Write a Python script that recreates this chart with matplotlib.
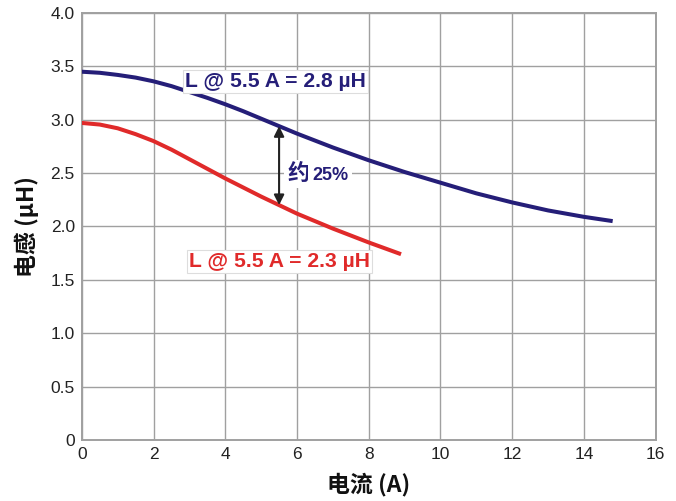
import matplotlib
matplotlib.use("Agg")
import matplotlib.pyplot as plt

# Inductance vs. current for two inductors
current_a = [0, 0.5, 1, 1.5, 2, 2.5, 3, 3.5, 4, 4.5, 5, 5.5, 6, 6.5, 7, 7.5, 8,
             9, 10, 11, 12, 13, 14, 14.8]
induct_a = [3.45, 3.44, 3.42, 3.395, 3.36, 3.315, 3.26, 3.205, 3.145, 3.08, 3.01,
            2.94, 2.87, 2.805, 2.74, 2.68, 2.62, 2.51, 2.41, 2.31, 2.225, 2.15,
            2.09, 2.05]

current_b = [0, 0.5, 1, 1.5, 2, 2.5, 3, 3.5, 4, 4.5, 5, 5.5, 6, 6.5, 7, 7.5, 8,
             8.9]
induct_b = [2.97, 2.955, 2.92, 2.865, 2.80, 2.72, 2.63, 2.54, 2.45, 2.365, 2.28,
            2.20, 2.12, 2.05, 1.98, 1.915, 1.85, 1.74]

x_ticks = [0, 2, 4, 6, 8, 10, 12, 14, 16]
y_ticks = [0, 0.5, 1.0, 1.5, 2.0, 2.5, 3.0, 3.5, 4.0]
y_tick_labels = ["0", "0.5", "1.0", "1.5", "2.0", "2.5", "3.0", "3.5", "4.0"]

label_a = "L @ 5.5 A = 2.8 µH"
label_b = "L @ 5.5 A = 2.3 µH"
arrow_x = 5.5
arrow_top, arrow_bottom = 2.94, 2.20

navy = "#251e78"
red = "#e02a2a"
grid_gray = "#a0a0a0"

tick_font = ["Liberation Sans Narrow", "Liberation Sans", "DejaVu Sans"]
cjk_font = ["Noto Sans CJK SC", "DejaVu Sans"]
latin_font = ["Liberation Sans", "DejaVu Sans"]

fig = plt.figure(figsize=(6.76, 5.01), dpi=100)
ax = fig.add_axes([0.121, 0.122, 0.849, 0.852])

ax.plot(current_a, induct_a, color=navy, lw=2.9, solid_capstyle="butt",
        solid_joinstyle="round", zorder=3)
ax.plot(current_b, induct_b, color=red, lw=2.9, solid_capstyle="butt",
        solid_joinstyle="round", zorder=3)

ax.set_xlim(0, 16)
ax.set_ylim(0, 4.0)
ax.set_xticks(x_ticks)
ax.set_yticks(y_ticks)
ax.set_yticklabels(y_tick_labels)
for lab in ax.get_xticklabels() + ax.get_yticklabels():
    lab.set_family(tick_font)
    lab.set_fontsize(12.5)
    lab.set_color("#222222")
ax.tick_params(length=0, pad=5)

ax.grid(True, color=grid_gray, lw=1.0, zorder=0)
ax.set_axisbelow(True)
for s in ax.spines.values():
    s.set_color(grid_gray)
    s.set_linewidth(1.4)

ax.set_xlabel("电流 (A)", family=cjk_font, fontsize=16.5, fontweight="bold",
              labelpad=8, color="#111111")
ax.set_ylabel("电感 (µH)", family=cjk_font, fontsize=16.5, fontweight="bold",
              labelpad=8, color="#111111")

box = dict(boxstyle="square,pad=0.1", fc="white", ec="#dddddd", lw=0.8)
ax.text(2.88, 3.355, label_a, color=navy, fontsize=15.2, fontweight="bold",
        family=latin_font, va="center", ha="left", bbox=box, zorder=4)
ax.text(2.98, 1.675, label_b, color=red, fontsize=15.2, fontweight="bold",
        family=latin_font, va="center", ha="left", bbox=box, zorder=4)

ax.annotate("", xy=(arrow_x, arrow_top), xytext=(arrow_x, arrow_bottom),
            arrowprops=dict(arrowstyle="<|-|>", color="#222222", lw=1.5,
                            mutation_scale=15, shrinkA=0, shrinkB=0), zorder=4)

ax.text(5.72, 2.49, "约", color=navy, fontsize=16, fontweight="bold",
        family=cjk_font, va="center", ha="left", zorder=5,
        bbox=dict(boxstyle="square,pad=0.12", fc="white", ec="none"))
ax.text(6.42, 2.48, "25%", color=navy, fontsize=13, fontweight="bold",
        family=latin_font, va="center", ha="left", zorder=5,
        bbox=dict(boxstyle="square,pad=0.2", fc="white", ec="none"))

fig.savefig("out.png", dpi=100)
